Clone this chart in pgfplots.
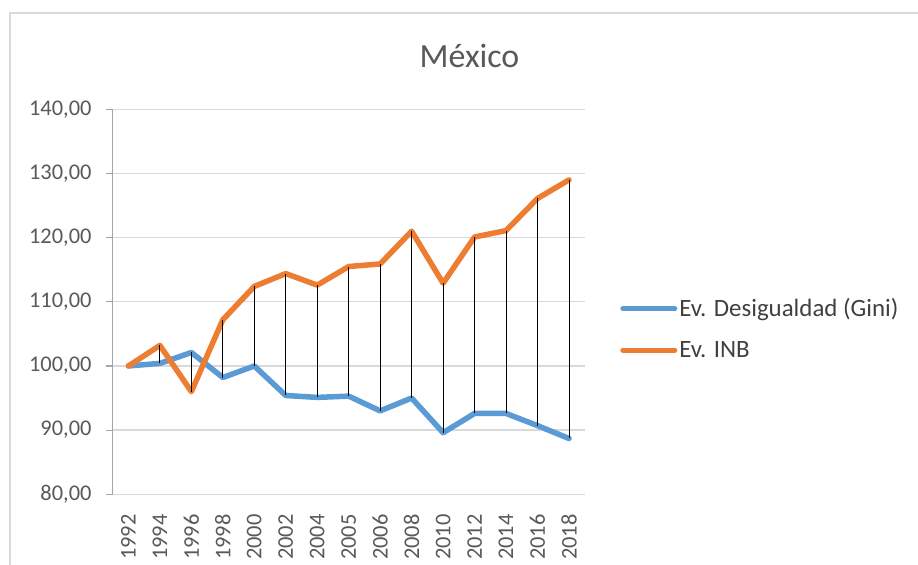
\documentclass[border=0pt]{standalone}
\usepackage{pgfplots}
\pgfplotsset{compat=1.18}
\usepackage{pgfplotstable}
\usepackage{fontspec}
\setmainfont{Carlito}
\definecolor{gini}{HTML}{5B9BD5}
\definecolor{inb}{HTML}{ED7D31}
\definecolor{gridgray}{HTML}{D9D9D9}
\definecolor{axisgray}{HTML}{A6A6A6}
\definecolor{labgray}{HTML}{595959}
\definecolor{legtext}{HTML}{404040}
\newcommand{\tickfont}{\fontsize{22.5}{26}\selectfont}
\pgfplotstableread{
x gini inb
0 100.0 100.0
1 100.4 103.2
2 102.1 96.0
3 98.2 107.2
4 100.0 112.4
5 95.4 114.4
6 95.1 112.6
7 95.3 115.5
8 93.0 115.9
9 95.0 121.0
10 89.6 112.9
11 92.6 120.1
12 92.6 121.1
13 90.7 126.1
14 88.7 129.0
}\datatable
\begin{document}
\begin{tikzpicture}
\useasboundingbox (0bp,0bp) rectangle (918bp,565bp);
\fill[white] (0bp,0bp) rectangle (918bp,565bp);
\draw[gridgray, line width=1.3bp] (10bp,0bp) -- (10bp,552bp) -- (918bp,552bp);
\node[anchor=base, font=\fontsize{34}{40}\selectfont, text=labgray, inner sep=0pt] at (469.5bp,497.7bp) {México};
\begin{axis}[
  at={(112.7bp,70.7bp)}, anchor=south west,
  scale only axis, width=472bp, height=385bp,
  xmin=-0.5, xmax=14.5, ymin=80, ymax=140,
  xtick={0,...,14},
  xticklabels={1992,1994,1996,1998,2000,2002,2004,2005,2006,2008,2010,2012,2014,2016,2018},
  ytick={80,90,...,140},
  /pgf/number format/assume math mode=true,
  yticklabel style={/pgf/number format/fixed, /pgf/number format/fixed zerofill,
    /pgf/number format/precision=2, /pgf/number format/use comma,
    font=\tickfont, text=labgray, inner sep=0pt, xshift=-14bp},
  xticklabel style={font=\tickfont, text=labgray, yshift=-13bp, rotate=90, anchor=east, inner sep=0pt},
  axis lines=left,
  axis line style={-},
  x axis line style={draw=gridgray, line width=1.3bp},
  y axis line style={draw=axisgray, line width=1.1bp},
  ymajorgrids, grid style={gridgray, line width=1.3bp},
  xtick style={draw=none},
  ytick style={draw=axisgray, line width=1.1bp},
  tick align=outside, major tick length=7bp,
  clip=false,
  legend style={draw=none, fill=none, at={(1.075,0.43)}, anchor=west,
    font=\fontsize{25}{29}\selectfont, text=legtext, row sep=19bp, inner sep=0pt},
  legend cell align=left,
  legend image code/.code={\draw[#1, line width=5bp, line cap=round] (0bp,0bp) -- (52bp,0bp);},
]
\addplot[gini, line width=5.5bp, line join=round, line cap=round] table[x=x, y=gini] {\datatable};
\addlegendentry{Ev. Desigualdad (Gini)}
\addplot[inb, line width=5.5bp, line join=round, line cap=round] table[x=x, y=inb] {\datatable};
\addlegendentry{Ev. INB}
\addplot[draw=none, mark=none, forget plot,
  error bars/.cd, y dir=plus, y explicit, error mark=none,
  error bar style={black, line width=0.9bp}]
  table[x=x, y expr={min(\thisrow{gini},\thisrow{inb})},
        y error plus expr={abs(\thisrow{inb}-\thisrow{gini})}] {\datatable};
\end{axis}
\end{tikzpicture}
\end{document}
